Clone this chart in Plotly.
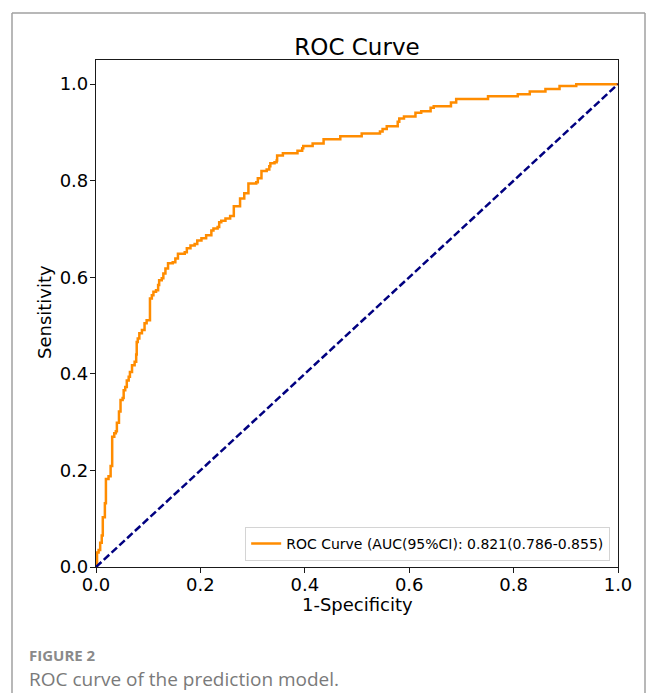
import plotly.graph_objects as go

# ROC step points (top of each riser)
fpr = [0.0, 0.002, 0.005, 0.008, 0.011, 0.013, 0.017, 0.019, 0.024, 0.028,
       0.031, 0.035, 0.038, 0.040, 0.044, 0.047, 0.051, 0.053, 0.056, 0.059,
       0.0626, 0.065, 0.069, 0.074, 0.077, 0.078, 0.080, 0.083, 0.088, 0.093,
       0.097, 0.1034, 0.107, 0.110, 0.115, 0.119, 0.121, 0.126, 0.129, 0.133,
       0.138, 0.147, 0.152, 0.157, 0.170, 0.174, 0.181, 0.189, 0.194, 0.202,
       0.211, 0.221, 0.225, 0.233, 0.236, 0.240, 0.248, 0.257, 0.264, 0.276,
       0.284, 0.292, 0.307, 0.310, 0.317, 0.327, 0.332, 0.334, 0.342, 0.346,
       0.347, 0.358, 0.386, 0.395, 0.397, 0.415, 0.436, 0.468, 0.509, 0.544,
       0.549, 0.557, 0.578, 0.581, 0.590, 0.612, 0.623, 0.641, 0.647, 0.680,
       0.690, 0.751, 0.808, 0.831, 0.861, 0.888, 0.920, 1.0]
tpr = [0.0, 0.030, 0.035, 0.050, 0.065, 0.103, 0.132, 0.182, 0.188, 0.209,
       0.270, 0.277, 0.281, 0.299, 0.322, 0.346, 0.350, 0.366, 0.373, 0.386,
       0.394, 0.404, 0.418, 0.425, 0.440, 0.466, 0.473, 0.484, 0.491, 0.505,
       0.511, 0.556, 0.563, 0.570, 0.573, 0.584, 0.594, 0.598, 0.608, 0.618,
       0.629, 0.631, 0.639, 0.649, 0.652, 0.660, 0.666, 0.669, 0.676, 0.681,
       0.687, 0.697, 0.701, 0.704, 0.714, 0.717, 0.722, 0.727, 0.747, 0.763,
       0.774, 0.794, 0.797, 0.805, 0.820, 0.823, 0.830, 0.836, 0.838, 0.842,
       0.852, 0.857, 0.862, 0.867, 0.872, 0.877, 0.886, 0.892, 0.898, 0.902,
       0.907, 0.913, 0.922, 0.929, 0.933, 0.941, 0.944, 0.951, 0.954, 0.962,
       0.969, 0.975, 0.979, 0.985, 0.990, 0.996, 1.0, 1.0]

diag_x = [0.0, 1.0]
diag_y = [0.0, 1.0]

tick_vals = [0.0, 0.2, 0.4, 0.6, 0.8, 1.0]
tick_text = ["0.0", "0.2", "0.4", "0.6", "0.8", "1.0"]

legend_label = "ROC Curve (AUC(95%CI): 0.821(0.786-0.855)"
title_text = "ROC Curve"
x_title = "1-Specificity"
y_title = "Sensitivity"
fig_label = "FIGURE 2"
fig_caption = "ROC curve of the prediction model."

FONT = "DejaVu Sans"

fig = go.Figure()
fig.add_trace(go.Scatter(
    x=fpr, y=tpr, mode="lines", name=legend_label,
    line=dict(color="#FF8C00", width=2.5, shape="hv"),
))
fig.add_trace(go.Scatter(
    x=diag_x, y=diag_y, mode="lines", showlegend=False,
    line=dict(color="#000080", width=2.5, dash="7.4px,3.2px"),
))

axis_common = dict(
    showgrid=False, zeroline=False, showline=True, mirror=True,
    linecolor="#1a1a1a", linewidth=1.2, ticks="outside", ticklen=5,
    tickcolor="#1a1a1a", tickwidth=1.2,
    tickfont=dict(family=FONT, size=18, color="black"),
    tickvals=tick_vals, ticktext=tick_text,
)

fig.update_layout(
    width=656, height=693,
    margin=dict(l=96, r=38, t=60, b=126),
    paper_bgcolor="white", plot_bgcolor="white",
    xaxis=dict(range=[0.0, 1.0], ticklabelstandoff=-4, **axis_common),
    yaxis=dict(range=[0.0, 1.05], ticklabelstandoff=-2, **axis_common),
    title=dict(text=title_text, x=0.5, xref="paper", xanchor="center",
               y=1 - 47 / 693, yref="container", yanchor="middle",
               font=dict(family=FONT, size=23, color="black")),
    legend=dict(x=0.985, y=0.012, xanchor="right", yanchor="bottom",
                bgcolor="rgba(255,255,255,0.85)", bordercolor="#d4d4d4",
                borderwidth=1, font=dict(family=FONT, size=14, color="black")),
    showlegend=True,
)

# axis titles
fig.add_annotation(text=x_title, xref="paper", yref="paper", x=0.5,
                   y=(567 - 604) / 507, xanchor="center", yanchor="middle",
                   showarrow=False, font=dict(family=FONT, size=18, color="black"))
fig.add_annotation(text=y_title, xref="paper", yref="paper", x=(44 - 96) / 522,
                   y=(567 - 312) / 507, xanchor="center", yanchor="middle",
                   textangle=-90, showarrow=False,
                   font=dict(family=FONT, size=18, color="black"))

# caption
fig.add_annotation(text="<b>" + fig_label + "</b>", xref="paper", yref="paper",
                   x=(27 - 96) / 522, y=(567 - 655) / 507, xanchor="left",
                   yanchor="middle", showarrow=False,
                   font=dict(family="Open Sans", size=15, color="#8a8a8a"))
fig.add_annotation(text=fig_caption, xref="paper", yref="paper",
                   x=(27 - 96) / 522, y=(567 - 679) / 507, xanchor="left",
                   yanchor="middle", showarrow=False,
                   font=dict(family="Open Sans", size=19, color="#7a7a7a"))

# outer frame (top and sides)
def px_x(p):
    return (p - 96) / 522

def px_y(p):
    return (567 - p) / 507

frame_col = "#a0a0a0"
fig.add_shape(type="line", xref="paper", yref="paper",
              x0=px_x(12), x1=px_x(645), y0=px_y(13), y1=px_y(13),
              line=dict(color=frame_col, width=1.5))
fig.add_shape(type="line", xref="paper", yref="paper",
              x0=px_x(12), x1=px_x(12), y0=px_y(13), y1=px_y(693),
              line=dict(color=frame_col, width=1.5))
fig.add_shape(type="line", xref="paper", yref="paper",
              x0=px_x(645), x1=px_x(645), y0=px_y(13), y1=px_y(693),
              line=dict(color=frame_col, width=1.5))

fig.write_html("out.html")
